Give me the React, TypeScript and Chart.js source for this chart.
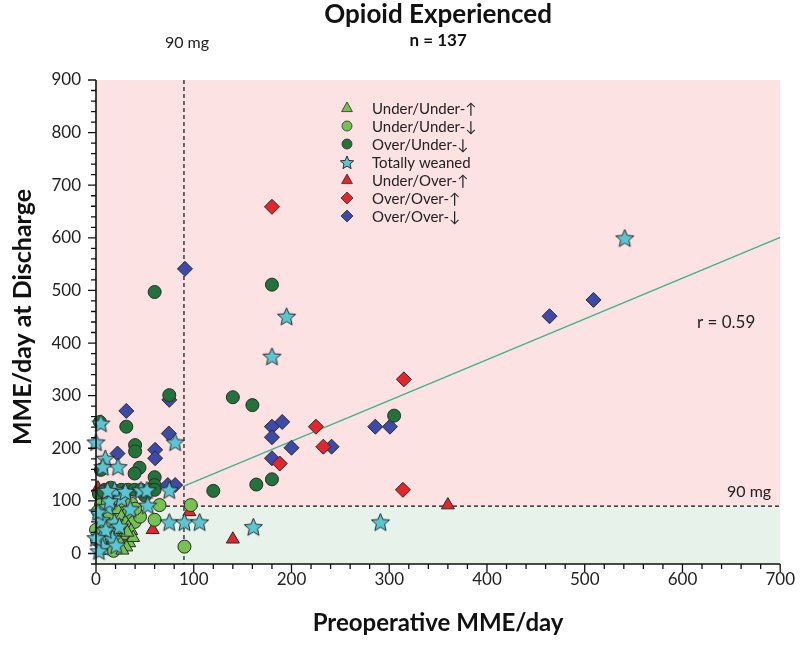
import { useEffect, useRef } from 'react';
import { Chart, registerables } from 'chart.js';
Chart.register(...registerables);

// ---------- DATA ----------
const uuUpX = [22, 26, 30, 33, 36, 28, 24, 34, 31, 27, 20, 38, 15, 32];
const uuUpY = [83, 70, 60, 50, 43, 34, 22, 20, 12, 6, 45, 30, 30, 40];

const uuDownX = [5, 2, 0, 1, 10, 14, 20, 28, 33, 39.5, 29, 65, 97, 60, 90.5, 8, 16, 45, 36, 12, 25, 18, 40];
const uuDownY = [92, 80, 45, 26, 55, 75, 92, 88, 76, 60, 48, 92, 92, 64, 13, 10, 38, 70, 95, 96, 15, 5, 85];

const ouDownX = [4, 31, 40, 40, 5, 44.5, 39.5, 60, 60, 9, 17.5, 26, 33, 39.5, 46, 55, 60, 75, 60, 180, 140, 160, 305, 120, 164, 180, 3, 12, 22, 50, 30, 8, 15];
const ouDownY = [250, 241, 206, 194, 159, 163, 152, 145, 130, 121, 121, 121, 121, 121, 121, 121, 121, 301, 497, 511, 297, 282, 262, 119, 131, 141, 113, 110, 112, 110, 100, 118, 125];

const weanedX = [5, 0, 9.5, 22.5, 7, 81, 19, 26, 46, 52, 53, 75, 75, 90.5, 106, 161, 291, 195, 180, 541, 12, 5.5, 19, 5.5, 17, 7, 20.7, 2, 10, 14, 3, 24, 12, 30, 35, 0];
const weanedY = [248, 212, 181, 165, 165, 212, 121, 105, 121, 121, 92, 121, 60, 60, 60, 51, 60, 451, 375, 600, 89, 64, 60, 32, 29, 13, 16, 79, 45, 100, 5, 52, 120, 118, 85, 30];

const uoUpX = [2, 95.5, 58, 140, 360, 28];
const uoUpY = [124, 79, 45, 27, 92, 115];

const ooUpX = [180, 315, 225, 232.6, 188, 314];
const ooUpY = [659, 331, 241, 203, 171, 121];

const ooDownX = [91, 75, 31, 60.5, 60.5, 74.5, 22, 73.5, 81, 180, 190.5, 180, 200, 241, 180, 285.7, 300.7, 464, 509];
const ooDownY = [541, 292, 271, 197, 181, 228, 190, 130, 130, 241, 250, 221, 201, 203, 181, 241, 241, 451, 482];

const fitX = [90, 700];
const fitY = [128, 601];

const legendLabels = ['Under/Under-↑', 'Under/Under-↓', 'Over/Under-↓', 'Totally weaned', 'Under/Over-↑', 'Over/Over-↑', 'Over/Over-↓'];

const xTickLabels = ['0', '100', '200', '300', '400', '500', '600', '700'];
const yTickLabels = ['0', '100', '200', '300', '400', '500', '600', '700', '800', '900'];

// ---------- STYLE ----------
const C_LIGHT = '#74c250';
const C_DARK = '#21733a';
const C_CYAN = '#58c7d3';
const C_RED = '#e3262b';
const C_BLUE = '#3d4aa8';
const C_EDGE = '#2b2b2b';
const FONT = 'Lato, "Open Sans", "DejaVu Sans", sans-serif';

function makeStar(r: number, fill: string, stroke: string) {
  const s = Math.ceil(r * 2 + 4);
  const c = document.createElement('canvas');
  c.width = s;
  c.height = s;
  const ctx = c.getContext('2d')!;
  ctx.beginPath();
  for (let i = 0; i < 10; i++) {
    const a = -Math.PI / 2 + (i * Math.PI) / 5;
    const rr = i % 2 === 0 ? r : r * 0.45;
    const x = s / 2 + rr * Math.cos(a);
    const y = s / 2 + 1 + rr * Math.sin(a);
    if (i === 0) ctx.moveTo(x, y);
    else ctx.lineTo(x, y);
  }
  ctx.closePath();
  ctx.fillStyle = fill;
  ctx.fill();
  ctx.lineWidth = 1;
  ctx.strokeStyle = stroke;
  ctx.stroke();
  return c;
}

function pts(xs: number[], ys: number[]) {
  return xs.map((x, i) => ({ x, y: ys[i] }));
}

function drawMarker(ctx: CanvasRenderingContext2D, kind: string, x: number, y: number, color: string, star?: HTMLCanvasElement) {
  ctx.save();
  ctx.fillStyle = color;
  ctx.strokeStyle = C_EDGE;
  ctx.lineWidth = 0.8;
  ctx.beginPath();
  if (kind === 'triangle') {
    const r = 6;
    ctx.moveTo(x, y - r);
    ctx.lineTo(x + r * 0.9, y + r * 0.6);
    ctx.lineTo(x - r * 0.9, y + r * 0.6);
    ctx.closePath();
  } else if (kind === 'circle') {
    ctx.arc(x, y, 5, 0, Math.PI * 2);
  } else if (kind === 'diamond') {
    const r = 6;
    ctx.moveTo(x, y - r);
    ctx.lineTo(x + r, y);
    ctx.lineTo(x, y + r);
    ctx.lineTo(x - r, y);
    ctx.closePath();
  }
  if (kind === 'star' && star) {
    ctx.drawImage(star, x - star.width / 2, y - star.height / 2);
  } else {
    ctx.fill();
    ctx.stroke();
  }
  ctx.restore();
}

export default function App() {
  const ref = useRef<HTMLCanvasElement | null>(null);

  useEffect(() => {
    const canvas = ref.current;
    if (!canvas) return;
    const bigStar = makeStar(9.5, C_CYAN, C_EDGE);
    const smallStar = makeStar(7, C_CYAN, C_EDGE);

    const decor = {
      id: 'decor',
      beforeDatasetsDraw(chart: any) {
        const { ctx, chartArea: a, scales } = chart;
        const xs = scales.x, ys = scales.y;
        const y90 = ys.getPixelForValue(90);
        const x90 = xs.getPixelForValue(90);
        ctx.save();
        ctx.fillStyle = '#fde2e4';
        ctx.fillRect(a.left, a.top, a.right - a.left, y90 - a.top);
        ctx.fillStyle = '#e7f2ea';
        ctx.fillRect(a.left, y90, a.right - a.left, a.bottom - y90);
        ctx.strokeStyle = '#111';
        ctx.lineWidth = 1.2;
        ctx.setLineDash([4, 3]);
        ctx.beginPath();
        ctx.moveTo(a.left, y90);
        ctx.lineTo(a.right, y90);
        ctx.moveTo(x90, a.top);
        ctx.lineTo(x90, a.bottom);
        ctx.stroke();
        ctx.restore();
      },
      afterDraw(chart: any) {
        const { ctx, chartArea: a, scales } = chart;
        const xs = scales.x, ys = scales.y;
        ctx.save();
        // axes
        ctx.strokeStyle = '#111';
        ctx.lineWidth = 1.6;
        ctx.beginPath();
        ctx.moveTo(a.left, a.top);
        ctx.lineTo(a.left, a.bottom);
        ctx.lineTo(a.right, a.bottom);
        ctx.stroke();
        ctx.lineWidth = 1.3;
        ctx.beginPath();
        xs.ticks.forEach((t: any) => {
          const px = xs.getPixelForValue(t.value);
          const len = t.value % 100 === 0 ? 8 : 5;
          ctx.moveTo(px, a.bottom);
          ctx.lineTo(px, a.bottom + len);
        });
        ys.ticks.forEach((t: any) => {
          const py = ys.getPixelForValue(t.value);
          const len = t.value % 100 === 0 ? 8 : 5;
          ctx.moveTo(a.left, py);
          ctx.lineTo(a.left - len, py);
        });
        ctx.stroke();

        // titles
        ctx.fillStyle = '#111';
        ctx.textAlign = 'center';
        ctx.textBaseline = 'middle';
        const cx = (a.left + a.right) / 2;
        ctx.font = `bold 26px ${FONT}`;
        ctx.fillText('Opioid Experienced', cx, 15);
        ctx.font = `bold 17px ${FONT}`;
        ctx.fillText('n = 137', cx, 41);
        ctx.font = `bold 24px ${FONT}`;
        ctx.fillText('Preoperative MME/day', cx, 623);
        ctx.save();
        ctx.translate(23, (a.top + a.bottom) / 2 - 5);
        ctx.rotate(-Math.PI / 2);
        ctx.font = `bold 25px ${FONT}`;
        ctx.fillText('MME/day at Discharge', 0, 0);
        ctx.restore();

        // annotations
        ctx.font = `16px ${FONT}`;
        ctx.fillStyle = '#222';
        ctx.fillText('90 mg', xs.getPixelForValue(90) + 3, 43);
        ctx.textAlign = 'left';
        ctx.fillText('90 mg', 727, ys.getPixelForValue(90) - 14);
        ctx.font = `17px ${FONT}`;
        ctx.fillText('r = 0.59', 697, 323);

        // legend
        const kinds = ['triangle', 'circle', 'circle', 'star', 'triangle', 'diamond', 'diamond'];
        const colors = [C_LIGHT, C_LIGHT, C_DARK, C_CYAN, C_RED, C_RED, C_BLUE];
        legendLabels.forEach((lab, i) => {
          const y = 108 + i * 18;
          drawMarker(ctx, kinds[i], 347, y, colors[i], smallStar);
          ctx.fillStyle = '#222';
          ctx.font = `15px ${FONT}`;
          ctx.textAlign = 'left';
          ctx.fillText(lab, 372, y + 1);
        });
        ctx.restore();
      },
    };

    const base = { borderColor: C_EDGE, borderWidth: 1, clip: false as any };
    const chart = new Chart(canvas, {
      type: 'scatter',
      data: {
        datasets: [
          { ...base, label: legendLabels[3], data: pts(weanedX, weanedY), pointStyle: bigStar as any, pointRadius: 9 },
          { ...base, label: legendLabels[0], data: pts(uuUpX, uuUpY), pointStyle: 'triangle', pointRadius: 7.5, backgroundColor: C_LIGHT },
          { ...base, label: legendLabels[1], data: pts(uuDownX, uuDownY), pointStyle: 'circle', pointRadius: 6.5, backgroundColor: C_LIGHT },
          { ...base, label: legendLabels[2], data: pts(ouDownX, ouDownY), pointStyle: 'circle', pointRadius: 6.5, backgroundColor: C_DARK },
          { ...base, label: legendLabels[5], data: pts(ooUpX, ooUpY), pointStyle: 'rectRot', pointRadius: 7.5, backgroundColor: C_RED },
          { ...base, label: legendLabels[4], data: pts(uoUpX, uoUpY), pointStyle: 'triangle', pointRadius: 7.5, backgroundColor: C_RED },
          { ...base, label: legendLabels[6], data: pts(ooDownX, ooDownY), pointStyle: 'rectRot', pointRadius: 7.5, backgroundColor: C_BLUE },
          {
            label: 'fit',
            data: pts(fitX, fitY),
            showLine: true,
            borderColor: '#3db38b',
            borderWidth: 1.3,
            pointRadius: 0,
            backgroundColor: '#3db38b',
          },
        ],
      },
      options: {
        responsive: false,
        animation: false,
        layout: { padding: { top: 80, right: 18, left: 0, bottom: 0 } },
        plugins: { legend: { display: false }, tooltip: { enabled: false }, title: { display: false } },
        scales: {
          x: {
            type: 'linear',
            min: 0,
            max: 700,
            grid: { display: false, drawTicks: false },
            border: { display: false },
            ticks: {
              stepSize: 20,
              autoSkip: false,
              maxRotation: 0,
              padding: 5,
              color: '#222',
              font: { family: FONT, size: 17 },
              callback: (v: any) => (v % 100 === 0 ? xTickLabels[v / 100] : ''),
            },
            afterFit: (s: any) => { s.height = 83; },
          },
          y: {
            type: 'linear',
            min: -20,
            max: 900,
            grid: { display: false, drawTicks: false },
            border: { display: false },
            ticks: {
              stepSize: 20,
              autoSkip: false,
              padding: 15,
              color: '#222',
              font: { family: FONT, size: 17 },
              callback: (v: any) => (v % 100 === 0 && v >= 0 ? yTickLabels[v / 100] : ''),
            },
            afterFit: (s: any) => { s.width = 96; },
          },
        },
      },
      plugins: [decor],
    } as any);
    return () => chart.destroy();
  }, []);

  return (
    <div style={{ position: 'absolute', left: 0, top: 0, width: 800, height: 647 }}>
      <canvas ref={ref} width={800} height={647} style={{ display: 'block' }} />
    </div>
  );
}
